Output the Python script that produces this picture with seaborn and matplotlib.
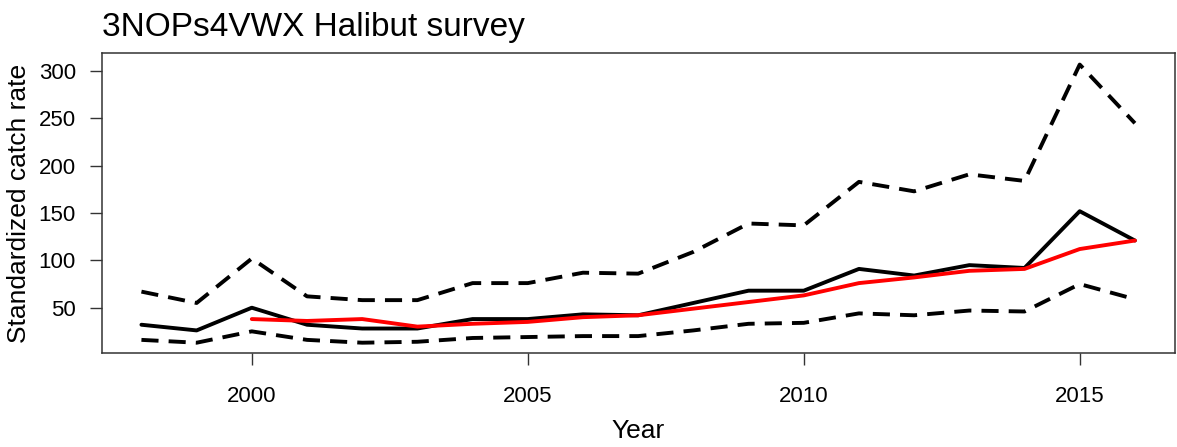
import matplotlib
matplotlib.use("Agg")
import matplotlib.pyplot as plt
import seaborn as sns
import numpy as np

years = list(range(1998, 2017))
upper = [67, 55, 102, 62, 58, 58, 76, 76, 87, 86, 109, 139, 137, 183, 173, 191, 184, 307, 245]
index = [32, 26, 50, 32, 28, 28, 38, 38, 43, 42, 55, 68, 68, 91, 84, 95, 92, 152, 121]
lower = [16, 13, 25, 16, 13, 14, 18, 19, 20, 20, 26, 33, 34, 44, 42, 47, 46, 75, 59]
fit_years = list(range(2000, 2017))
fit = [38, 36, 38, 30, 33, 35, 40, 42, 49, 56, 63, 76, 82, 89, 91, 112, 121]

x_ticks = [2000, 2005, 2010, 2015]
y_ticks = [50, 100, 150, 200, 250, 300]
title = "3NOPs4VWX Halibut survey"
xlabel = "Year"
ylabel = "Standardized catch rate"

sns.set_style("white")
plt.rcParams['font.family'] = ['Liberation Sans', 'DejaVu Sans']

fig = plt.figure(figsize=(11.77, 4.47), dpi=100)
ax = fig.add_axes([0.0864, 0.2096, 0.9116, 0.6718])

lw = 2.8
dash = (0, (4.4, 2.6))
sns.lineplot(x=years, y=upper, ax=ax, color='black', lw=lw)
ax.lines[-1].set_linestyle(dash)
sns.lineplot(x=years, y=lower, ax=ax, color='black', lw=lw)
ax.lines[-1].set_linestyle(dash)
sns.lineplot(x=years, y=index, ax=ax, color='black', lw=lw)
sns.lineplot(x=fit_years, y=fit, ax=ax, color='#ff0000', lw=lw)

ax.set_xlim(1997.28, 2016.72)
ax.set_ylim(1.8, 319.2)
ax.set_xticks(x_ticks)
ax.set_yticks(y_ticks)
ax.tick_params(axis='both', direction='out', length=8.6, width=1, color='#333333',
               labelsize=16, labelcolor='black', bottom=True, left=True)
ax.tick_params(axis='x', pad=15)
ax.tick_params(axis='y', pad=10)
for s in ax.spines.values():
    s.set_visible(True)
    s.set_color('#333333')
    s.set_linewidth(1.1)

ax.set_title(title, loc='left', fontsize=24, pad=12, color='black')
ax.set_xlabel(xlabel, fontsize=19, color='black')
ax.set_ylabel(ylabel, fontsize=19, color='black')
ax.xaxis.set_label_coords(0.5, -0.219)
ax.yaxis.set_label_coords(-0.066, 0.5)

fig.savefig("out.png", dpi=100)
